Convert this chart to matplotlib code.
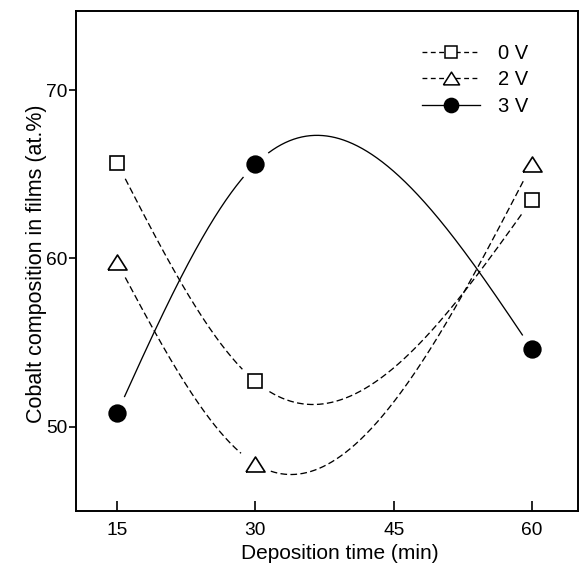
import matplotlib
matplotlib.use("Agg")
import matplotlib.pyplot as plt
import numpy as np
from matplotlib.lines import Line2D

plt.rcParams['font.family'] = ['Liberation Sans', 'DejaVu Sans']
plt.rcParams['lines.scale_dashes'] = False

# data
times = [15, 30, 60]
co_0v = [65.7, 52.7, 63.5]
co_2v = [59.8, 47.8, 65.6]
co_3v = [50.8, 65.6, 54.6]
labels = ["0 V", "2 V", "3 V"]
xticks = [15, 30, 45, 60]
yticks = [50, 60, 70]


def natural_spline(x, y, xs):
    # natural cubic spline through the measured points
    x = np.asarray(x, float)
    y = np.asarray(y, float)
    n = len(x)
    h = np.diff(x)
    A = np.zeros((n, n))
    b = np.zeros(n)
    A[0, 0] = A[-1, -1] = 1
    for i in range(1, n - 1):
        A[i, i - 1] = h[i - 1]
        A[i, i] = 2 * (h[i - 1] + h[i])
        A[i, i + 1] = h[i]
        b[i] = 6 * ((y[i + 1] - y[i]) / h[i] - (y[i] - y[i - 1]) / h[i - 1])
    M = np.linalg.solve(A, b)
    out = np.empty_like(xs)
    for k, t in enumerate(xs):
        i = min(max(np.searchsorted(x, t) - 1, 0), n - 2)
        a, c = x[i], x[i + 1]
        hi = h[i]
        out[k] = (M[i] * (c - t) ** 3 / (6 * hi) + M[i + 1] * (t - a) ** 3 / (6 * hi)
                  + (y[i] / hi - M[i] * hi / 6) * (c - t)
                  + (y[i + 1] / hi - M[i + 1] * hi / 6) * (t - a))
    return out


fig = plt.figure(figsize=(5.81, 5.71), dpi=100)
ax = fig.add_axes([76 / 581, 1 - 511 / 571, 502 / 581, 500 / 571])
ax.set_xlim(10.56, 64.98)
ax.set_ylim(45, 74.7)

tri = [(-1.27, -1), (1.27, -1), (0, 1), (-1.27, -1)]
styles = [
    dict(marker='s', ms=10, mfc='white', dashes=(4.8, 2.4)),
    dict(marker=tri, ms=13.7, mfc='white', dashes=(4.8, 2.4)),
    dict(marker='o', ms=12, mfc='black', dashes=None),
]

xs = np.linspace(15, 60, 600)
handles = []
for ys, st, lab in zip([co_0v, co_2v, co_3v], styles, labels):
    curve = natural_spline(times, ys, xs)
    # leave a small gap around each marker, as in the original figure
    pix = ax.transData.transform(np.column_stack([xs, curve]))
    mk = ax.transData.transform(np.column_stack([times, ys]))
    d = np.min(np.hypot(pix[:, None, 0] - mk[None, :, 0],
                        pix[:, None, 1] - mk[None, :, 1]), axis=1)
    curve = np.where(d < 17, np.nan, curve)
    ls = '-' if st['dashes'] is None else '--'
    line, = ax.plot(xs, curve, color='black', lw=0.95, ls=ls)
    if ls == '--':
        line.set_dashes(st['dashes'])
    ax.plot(times, ys, ls='none', marker=st['marker'], ms=st['ms'],
            mfc=st['mfc'], mec='black', mew=1.2)
    h = Line2D([], [], color='black', lw=0.95, ls=ls, marker=st['marker'],
               ms=st['ms'] * 0.85, mfc=st['mfc'], mec='black', mew=1.1)
    if ls == '--':
        h.set_dashes((3.5, 2.5))
    handles.append(h)

ax.legend(handles, labels, loc='upper left', bbox_to_anchor=(0.673, 0.951),
          frameon=False, fontsize=14.5, handlelength=2.9, handletextpad=0.9,
          labelspacing=0.38, numpoints=1, borderaxespad=0)

ax.set_xticks(xticks)
ax.set_yticks(yticks)
ax.tick_params(axis='x', direction='in', length=7, width=1.2, pad=8, labelsize=13.8)
ax.tick_params(axis='y', direction='out', length=5, width=1.2, pad=1.5, labelsize=13.8)
for s in ax.spines.values():
    s.set_linewidth(1.4)

ax.set_xlabel("Deposition time (min)", fontsize=15)
ax.xaxis.set_label_coords(0.526, -0.066)
ax.set_ylabel("Cobalt composition in films (at.%)", fontsize=15.5)
ax.yaxis.set_label_coords(-0.057, 0.494)

fig.savefig("out.png", dpi=100)
